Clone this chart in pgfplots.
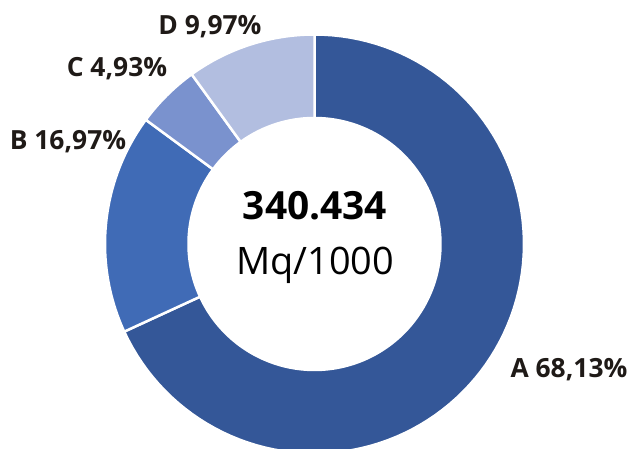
\documentclass[border=0pt]{standalone}
\usepackage{pgfplots}
\usepackage{pgfplotstable}
\pgfplotsset{compat=1.18}
\usepackage{fontspec}
\setmainfont{Open Sans}
\definecolor{cA}{HTML}{345798}
\definecolor{cB}{HTML}{406BB6}
\definecolor{cC}{HTML}{7A92CE}
\definecolor{cD}{HTML}{B2BEE0}
\definecolor{txt}{HTML}{1F1A17}
\pgfplotstableread{
name value
A 68.13
B 16.97
C 4.93
D 9.97
}\piedata
\begin{document}
\begin{tikzpicture}
\pgfplotstablegetelem{0}{value}\of\piedata \pgfmathsetmacro{\vA}{\pgfplotsretval}
\pgfplotstablegetelem{1}{value}\of\piedata \pgfmathsetmacro{\vB}{\pgfplotsretval}
\pgfplotstablegetelem{2}{value}\of\piedata \pgfmathsetmacro{\vC}{\pgfplotsretval}
\pgfplotstablegetelem{3}{value}\of\piedata \pgfmathsetmacro{\vD}{\pgfplotsretval}
\pgfmathsetmacro{\aA}{90}
\pgfmathsetmacro{\aB}{\aA-3.6*\vA}
\pgfmathsetmacro{\aC}{\aB-3.6*\vB}
\pgfmathsetmacro{\aD}{\aC-3.6*\vC}
\pgfmathsetmacro{\aE}{\aD-3.6*\vD}
\begin{axis}[
  name=pie,
  x=1bp, y=1bp, scale only axis,
  xmin=0, xmax=630, ymin=-449, ymax=0,
  hide axis, clip=true,
  declare function={
    rr(\t)=(\t<=1)*209.5 + (\t>1)*(\t<=2)*(209.5-(209.5-126)*(\t-1)) + (\t>2)*126;
    th(\t,\a,\b)=(\t<=1)*(\a+(\b-\a)*\t) + (\t>1)*(\t<=2)*\b + (\t>2)*(\b-(\b-\a)*(\t-2));
  },
]
\addplot[fill=cA, draw=white, line width=2.5bp, line join=round, domain=0:3, samples=301, variable=\t]
  ({314.5+rr(\t)*cos(th(\t,\aA,\aB))},{-244+rr(\t)*sin(th(\t,\aA,\aB))}) -- cycle;
\addplot[fill=cB, draw=white, line width=2.5bp, line join=round, domain=0:3, samples=301, variable=\t]
  ({314.5+rr(\t)*cos(th(\t,\aB,\aC))},{-244+rr(\t)*sin(th(\t,\aB,\aC))}) -- cycle;
\addplot[fill=cC, draw=white, line width=2.5bp, line join=round, domain=0:3, samples=301, variable=\t]
  ({314.5+rr(\t)*cos(th(\t,\aC,\aD))},{-244+rr(\t)*sin(th(\t,\aC,\aD))}) -- cycle;
\addplot[fill=cD, draw=white, line width=2.5bp, line join=round, domain=0:3, samples=301, variable=\t]
  ({314.5+rr(\t)*cos(th(\t,\aD,\aE))},{-244+rr(\t)*sin(th(\t,\aD,\aE))}) -- cycle;
\node[anchor=base, inner sep=0pt, text=txt, font=\bfseries\fontsize{26.5}{30}\selectfont] at (axis cs:569,-378) {A 68,13\%};
\node[anchor=base, inner sep=0pt, text=txt, font=\bfseries\fontsize{26.5}{30}\selectfont] at (axis cs:68,-150) {B 16,97\%};
\node[anchor=base, inner sep=0pt, text=txt, font=\bfseries\fontsize{26.5}{30}\selectfont] at (axis cs:117,-77) {C 4,93\%};
\node[anchor=base, inner sep=0pt, text=txt, font=\bfseries\fontsize{26.5}{30}\selectfont] at (axis cs:210,-35) {D 9,97\%};
\node[anchor=base, inner sep=0pt, text=black, font=\bfseries\fontsize{39}{44}\selectfont] at (axis cs:315,-220) {340.434};
\node[anchor=base, inner sep=0pt, text=black, font=\fontsize{38}{44}\selectfont] at (axis cs:315,-275) {Mq/1000};
\end{axis}
\pgfresetboundingbox
\path[use as bounding box] (pie.south west) rectangle (pie.north east);
\end{tikzpicture}
\end{document}
